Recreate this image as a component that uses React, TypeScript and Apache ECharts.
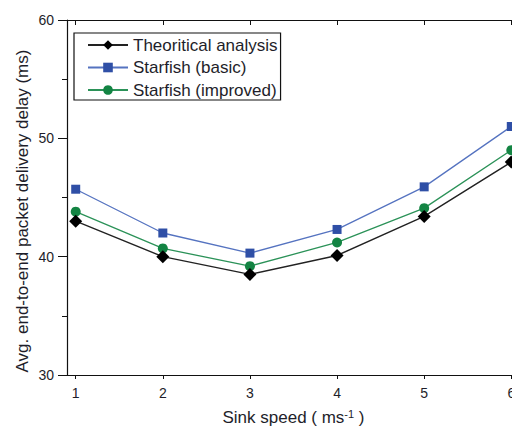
import React, { useEffect, useRef } from "react";
import * as echarts from "echarts";

// Sink speed (m/s) on the x axis
const speeds = [1, 2, 3, 4, 5, 6];
// Average end-to-end packet delivery delay (ms)
const theoretical = [43.0, 40.0, 38.5, 40.1, 43.4, 48.0];
const starfishBasic = [45.7, 42.0, 40.3, 42.3, 45.9, 51.0];
const starfishImproved = [43.8, 40.7, 39.2, 41.2, 44.1, 49.0];
const yTicks = [30, 40, 50, 60];

const FONT = "Liberation Sans, Arial, sans-serif";
const TEXT = "#1e1e2a";

function pairs(values: number[]) {
  return speeds.map((s, i) => [s, values[i]]);
}

export default function App() {
  const ref = useRef<HTMLDivElement>(null);

  useEffect(() => {
    if (!ref.current) return;
    const chart = echarts.init(ref.current, null, { renderer: "svg" });
    const axisLine = { show: true, lineStyle: { color: "#111", width: 1.2 } };
    const baseX = {
      type: "value" as const,
      min: 0.9,
      max: 6.1,
      splitLine: { show: false },
      axisLine,
    };
    const baseY = {
      type: "value" as const,
      min: yTicks[0],
      max: yTicks[yTicks.length - 1],
      interval: 10,
      splitLine: { show: false },
      axisLine,
    };
    chart.setOption({
      animation: false,
      backgroundColor: "#fff",
      textStyle: { fontFamily: FONT },
      grid: { left: 67, top: 20, right: 0, bottom: 52, containLabel: false },
      legend: {
        orient: "vertical",
        left: 74,
        top: 33,
        padding: [3, 3, 1, 13],
        itemGap: 4.5,
        itemWidth: 40,
        itemHeight: 12,
        borderColor: "#111",
        borderWidth: 1.2,
        textStyle: { fontSize: 17, lineHeight: 18, color: TEXT, fontFamily: FONT },
        data: ["Theoritical analysis", "Starfish (basic)", "Starfish (improved)"],
      },
      graphic: [
        {
          type: "text",
          x: 22,
          y: 211,
          rotation: Math.PI / 2,
          style: {
            text: "Avg. end-to-end packet delivery delay (ms)",
            fontSize: 17,
            fontFamily: FONT,
            fill: TEXT,
            align: "center",
            verticalAlign: "middle",
          },
        },
      ],
      xAxis: [
        {
          ...baseX,
          position: "bottom",
          name: "Sink speed ( ms{sup|-1} )",
          nameLocation: "middle",
          nameGap: 33,
          nameTextStyle: {
            fontSize: 17,
            color: TEXT,
            fontFamily: FONT,
            rich: { sup: { fontSize: 11, verticalAlign: "top", padding: [0, 0, 8, 0], color: TEXT } },
          },
          axisTick: { show: true, length: 4, lineStyle: { color: "#111" }, customValues: speeds },
          axisLabel: { fontSize: 14, color: TEXT, margin: 11, customValues: speeds },
        },
        {
          ...baseX,
          position: "top",
          axisTick: { show: true, inside: true, length: 5, lineStyle: { color: "#111" }, customValues: speeds },
          axisLabel: { show: false },
        },
      ],
      yAxis: [
        {
          ...baseY,
          position: "left",
          axisTick: { show: true, length: 9, lineStyle: { color: "#111" } },
          minorTick: { show: true, splitNumber: 2, length: 5, lineStyle: { color: "#111" } },
          axisLabel: { fontSize: 14, color: TEXT, margin: 13 },
        },
        {
          ...baseY,
          position: "right",
          axisTick: { show: true, inside: true, length: 5 },
          axisLabel: { show: false },
        },
      ],
      series: [
        {
          name: "Theoritical analysis",
          type: "line",
          data: pairs(theoretical),
          symbol: "diamond",
          symbolSize: 13,
          itemStyle: { color: "#000" },
          lineStyle: { color: "#222", width: 1.4 },
          z: 3,
        },
        {
          name: "Starfish (basic)",
          type: "line",
          data: pairs(starfishBasic),
          symbol: "rect",
          symbolSize: 9,
          itemStyle: { color: "#2f4fa6" },
          lineStyle: { color: "#5573c0", width: 1.3 },
          z: 2,
        },
        {
          name: "Starfish (improved)",
          type: "line",
          data: pairs(starfishImproved),
          symbol: "circle",
          symbolSize: 10,
          itemStyle: { color: "#138443" },
          lineStyle: { color: "#2b9258", width: 1.3 },
          z: 2,
        },
      ],
    });
    return () => chart.dispose();
  }, []);

  // The plot frame runs slightly past the right edge of the visible area.
  return (
    <div
      style={{ position: "absolute", left: 0, top: 0, width: 512, height: 431, overflow: "hidden" }}
    >
      <div ref={ref} style={{ width: 520, height: 431 }} />
    </div>
  );
}
